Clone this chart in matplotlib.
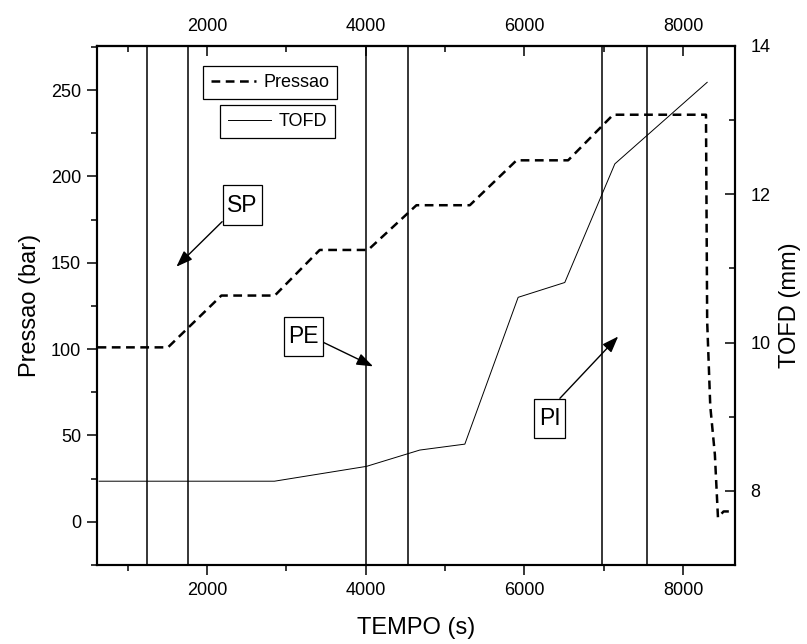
import matplotlib
matplotlib.use('Agg')
import matplotlib.pyplot as plt
from matplotlib.ticker import MultipleLocator
from matplotlib.lines import Line2D
from matplotlib.path import Path

plt.rcParams['font.family'] = ['Liberation Sans', 'DejaVu Sans']

# ── data ──
# pressure (left axis, bar) vs time (s)
pres_time = [620, 1508, 2181, 2854, 3421, 4030, 4640, 5313, 5902, 6552,
             7120, 8290, 8305, 8344, 8402, 8441, 8512, 8578]
pres_bar = [101, 101, 131, 131, 157.4, 157.4, 183.3, 183.3, 209.3, 209.3,
            235.7, 235.7, 116, 67, 39, 2.5, 6, 6]

# TOFD (right axis, mm) vs time (s)
tofd_time = [640, 2850, 4010, 4682, 5250, 5922, 6510, 7141, 8305]
tofd_mm = [8.13, 8.13, 8.33, 8.55, 8.63, 10.61, 10.81, 12.41, 13.51]

# vertical stage markers (s)
stage_lines = [1240, 1757, 4000, 4530, 6980, 7545]

# stage labels: text, text position, arrow tip (time, pressure)
stage_names = ['SP', 'PE', 'PI']
stage_text_at = [(2446, 183.3), (3217, 107.3), (6318, 59.8)]
stage_arrow_to = [(1614, 147.7), (4093, 90), (7183, 107.3)]
stage_relpos = [(0.0, 0.0), (1.0, 0.34), (0.6, 1.0)]


def tall_box(x0, y0, width, height, mutation_size):
    # plain rectangle, more padding top/bottom than left/right (Origin style)
    px = 0.2 * mutation_size
    py = 0.36 * mutation_size
    x0, y0 = x0 - px, y0 - py
    x1, y1 = x0 + width + 2 * px, y0 + height + 2 * py
    return Path([(x0, y0), (x1, y0), (x1, y1), (x0, y1), (x0, y0)],
                closed=True)


def main():
    fig = plt.figure(figsize=(8.07, 6.44), dpi=100)
    ax = fig.add_axes([0.1202, 0.1227, 0.7906, 0.8059])
    ax2 = ax.twinx()

    for x in stage_lines:
        ax.axvline(x, color='black', lw=1.1)

    ax.plot(pres_time, pres_bar, color='black', lw=1.8, dashes=(3.5, 2.2))
    ax2.plot(tofd_time, tofd_mm, color='black', lw=0.7)

    ax.set_xlim(613, 8656)
    ax.set_ylim(-25, 275.5)
    ax2.set_ylim(7, 14)

    ax.xaxis.set_major_locator(MultipleLocator(2000))
    ax.xaxis.set_minor_locator(MultipleLocator(1000))
    ax.yaxis.set_major_locator(MultipleLocator(50))
    ax.yaxis.set_minor_locator(MultipleLocator(25))
    ax2.yaxis.set_major_locator(MultipleLocator(2))
    ax2.yaxis.set_minor_locator(MultipleLocator(1))

    ax.tick_params(which='major', direction='out', length=7.5, width=1.1,
                   labelsize=13, pad=4)
    ax.tick_params(which='minor', direction='out', length=4, width=1.1)
    ax.tick_params(axis='x', pad=5)
    ax2.tick_params(which='major', direction='in', length=7.5, width=1.1,
                    labelsize=13, pad=11)
    ax2.tick_params(which='minor', direction='in', length=4, width=1.1)

    top = ax.secondary_xaxis('top')
    top.xaxis.set_major_locator(MultipleLocator(2000))
    top.xaxis.set_minor_locator(MultipleLocator(1000))
    top.tick_params(which='major', direction='in', length=7.5, width=1.1,
                    labelsize=13, pad=8)
    top.tick_params(which='minor', direction='in', length=4, width=1.1)

    # unused offset texts sit at the figure edge; hide them
    ax2.yaxis.get_offset_text().set_visible(False)
    top.xaxis.get_offset_text().set_visible(False)

    for a in (ax, ax2, top):
        for s in a.spines.values():
            s.set_linewidth(1.5)

    ax.set_xlabel('TEMPO (s)', fontsize=17, labelpad=13)
    ax.set_ylabel('Pressao (bar)', fontsize=17, labelpad=7)
    ax2.set_ylabel('TOFD (mm)', fontsize=17, labelpad=6)

    # ── stage annotations ──
    for name, txt, tip, rp in zip(stage_names, stage_text_at, stage_arrow_to, stage_relpos):
        ax.annotate(name, xy=tip, xytext=txt, ha='center', va='center',
                    fontsize=16.5,
                    bbox=dict(boxstyle=tall_box, fc='white', ec='black', lw=0.9),
                    arrowprops=dict(arrowstyle='-|>,head_length=0.6,head_width=0.22',
                                    color='black', lw=1.0, relpos=rp,
                                    shrinkA=0, shrinkB=0))

    # ── two separate legend boxes ──
    h_p = Line2D([], [], color='black', lw=1.8, dashes=(3.5, 2.2))
    h_t = Line2D([], [], color='black', lw=0.7)
    common = dict(loc='upper left', bbox_transform=fig.transFigure,
                  fancybox=False, edgecolor='black', framealpha=1,
                  fontsize=13, handletextpad=0.4, borderpad=0.45,
                  borderaxespad=0)
    leg1 = ax2.legend([h_p], ['Pressao'], bbox_to_anchor=(0.2512, 0.8975),
                      handlelength=2.5, **common)
    leg1.get_frame().set_linewidth(0.9)
    ax2.add_artist(leg1)
    leg2 = ax2.legend([h_t], ['TOFD'], bbox_to_anchor=(0.2726, 0.8370),
                      handlelength=2.4, **common)
    leg2.get_frame().set_linewidth(0.9)

    fig.savefig('out.png', dpi=100)


if __name__ == '__main__':
    main()
